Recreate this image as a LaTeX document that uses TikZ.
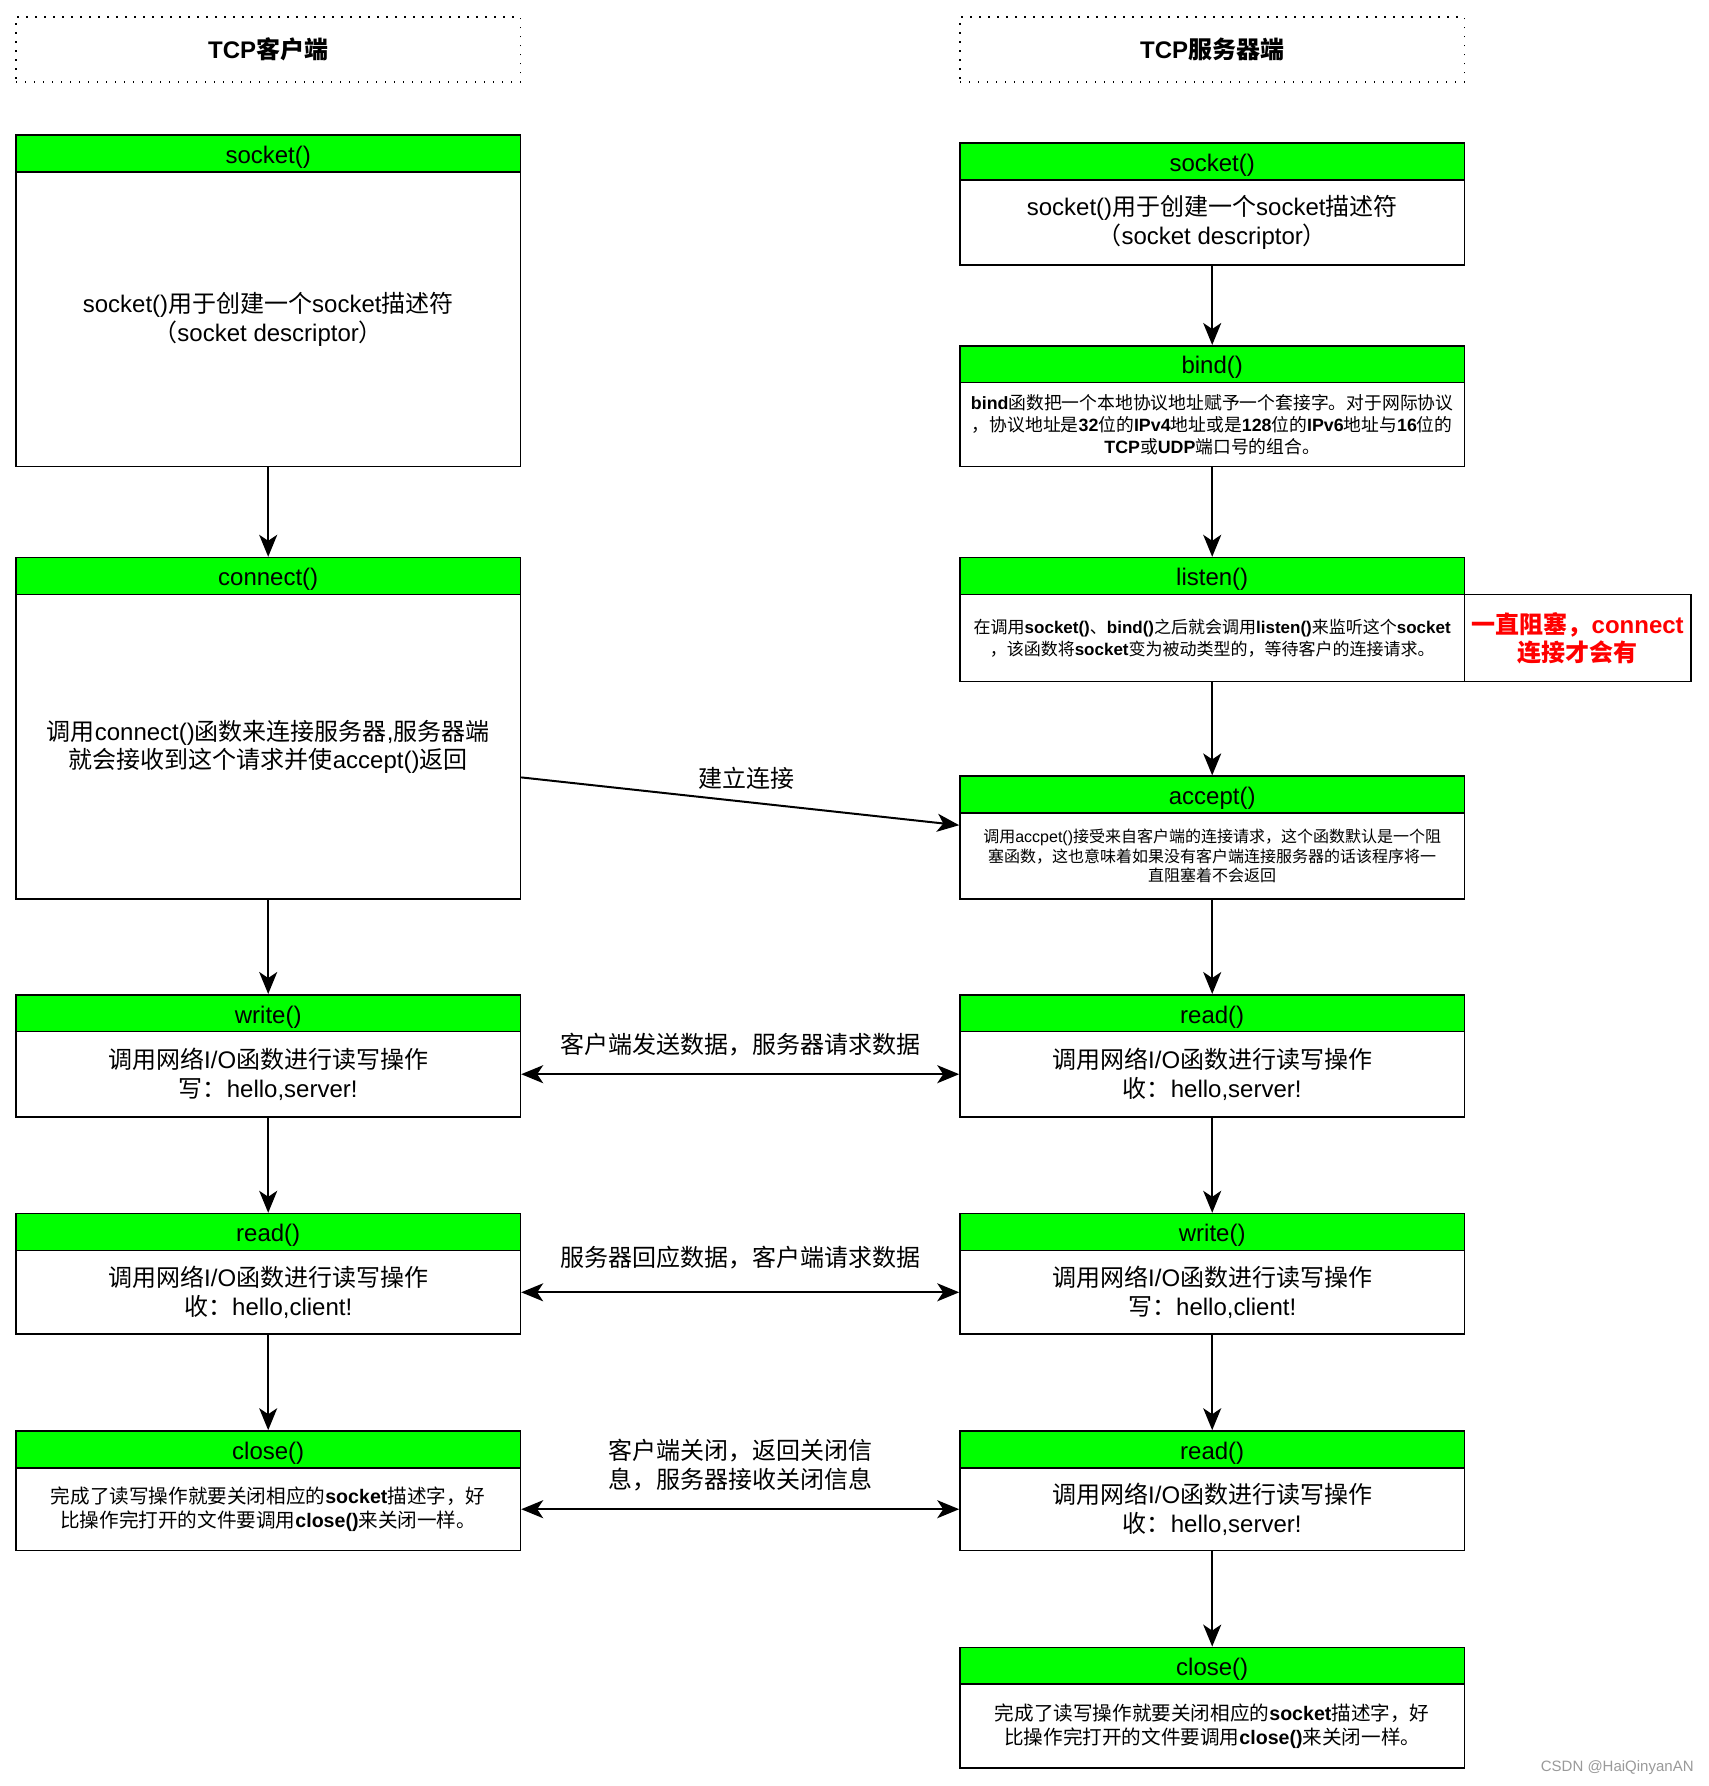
\documentclass[tikz,border=0pt]{standalone}
\usepackage{fontspec}
\setmainfont{Liberation Sans}
\newfontfamily\latinfont{Liberation Sans}
\newfontfamily\cjkfont{Noto Sans CJK SC}
\usetikzlibrary{arrows.meta}
\definecolor{hdrgreen}{HTML}{00FF00}
\definecolor{notered}{HTML}{FF0000}
\definecolor{wmgray}{HTML}{9A9A9A}
\XeTeXinterchartokenstate=1
\newXeTeXintercharclass\cjkcls
\newcount\cjkcnt
\def\setcjkrange#1#2{\cjkcnt=#1\relax
  \loop\XeTeXcharclass\cjkcnt=\cjkcls\relax
  \advance\cjkcnt by 1\relax
  \ifnum\cjkcnt<#2\relax\repeat}
\setcjkrange{"3000}{"3040}
\setcjkrange{"4E00}{"A000}
\setcjkrange{"FF00}{"FFF0}
\XeTeXinterchartoks 0 \cjkcls = {\cjkfont}
\XeTeXinterchartoks 4095 \cjkcls = {\cjkfont}
\XeTeXinterchartoks \cjkcls 0 = {\latinfont}
\XeTeXinterchartoks 4095 0 = {\latinfont}
\begin{document}
\begin{tikzpicture}[x=1pt,y=-1pt,
  box/.style={draw=black, line width=0.8pt, rectangle, inner sep=0pt, align=center, anchor=north, minimum width=252.2pt},
  hdr/.style={draw=black, line width=0.8pt, rectangle, inner sep=0pt, anchor=north, minimum width=252.2pt, fill=hdrgreen, minimum height=18.4pt, text height=11.8pt, text depth=2pt, font=\fontsize{12}{14}\selectfont},
  bodybox/.style={box, fill=white, font=\fontsize{12}{14.2}\selectfont},
  bindtxt/.style={font=\fontsize{8.9}{10.8}\selectfont},
  listentxt/.style={font=\fontsize{8.5}{10.8}\selectfont},
  tinytxt/.style={font=\fontsize{8}{9.7}\selectfont},
  closetxt/.style={font=\fontsize{9.8}{11.8}\selectfont},
  titlebox/.style={draw=black, line width=0.7pt, dash pattern=on 0.7pt off 3.8pt, rectangle, minimum width=252.2pt, minimum height=32.5pt, inner sep=0pt, font=\fontsize{12}{14}\selectfont\bfseries},
  notebox/.style={box, fill=white, minimum width=113.3pt, text=notered, font=\fontsize{12}{14}\selectfont\bfseries},
  lbl/.style={inner sep=0pt, font=\fontsize{12}{14.2}\selectfont, align=center},
  arr/.style={draw=black, line width=1pt, -{Stealth[length=11pt,width=9pt,inset=3pt]}},
  darr/.style={draw=black, line width=1pt, {Stealth[length=11pt,width=9pt,inset=3pt]}-{Stealth[length=11pt,width=9pt,inset=3pt]}}
]
\fill[white] (0,0) rectangle (854,893);
\useasboundingbox (0,0) rectangle (854,893);

% titles
\node[titlebox] (tl) at (134.1,24.8) {TCP客户端};
\node[titlebox] (tr) at (606.1,24.8) {TCP服务器端};

% left column
\node[hdr] (ls-h) at (134.1,67.2) {socket()};
\node[bodybox, minimum height=147.3pt] (ls-b) at (134.1,85.6) {socket()用于创建一个socket描述符\\（socket descriptor）};
\node[hdr] (lc-h) at (134.1,278.4) {connect()};
\node[bodybox, minimum height=152.4pt] (lc-b) at (134.1,296.8) {调用connect()函数来连接服务器,服务器端\\就会接收到这个请求并使accept()返回};
\node[hdr] (lw-h) at (134.1,497.0) {write()};
\node[bodybox, minimum height=42.6pt] (lw-b) at (134.1,515.4) {调用网络I/O函数进行读写操作\\写：hello,server!};
\node[hdr] (lr-h) at (134.1,606.4) {read()};
\node[bodybox, minimum height=41.9pt] (lr-b) at (134.1,624.8) {调用网络I/O函数进行读写操作\\收：hello,client!};
\node[hdr] (lx-h) at (134.1,715.1) {close()};
\node[bodybox, closetxt, minimum height=41.4pt] (lx-b) at (134.1,733.5) {完成了读写操作就要关闭相应的\textbf{socket}描述字，好\\比操作完打开的文件要调用\textbf{close()}来关闭一样。};

% right column
\node[hdr] (rs-h) at (606.1,71.2) {socket()};
\node[bodybox, minimum height=42.5pt] (rs-b) at (606.1,89.6) {socket()用于创建一个socket描述符\\（socket descriptor）};
\node[hdr] (rb-h) at (606.1,172.5) {bind()};
\node[bodybox, bindtxt, minimum height=42.0pt] (rb-b) at (606.1,190.9) {\textbf{bind}函数把一个本地协议地址赋予一个套接字。对于网际协议\\，协议地址是\textbf{32}位的\textbf{IPv4}地址或是\textbf{128}位的\textbf{IPv6}地址与\textbf{16}位的\\\textbf{TCP}或\textbf{UDP}端口号的组合。};
\node[hdr] (rl-h) at (606.1,278.4) {listen()};
\node[bodybox, listentxt, minimum height=43.6pt] (rl-b) at (606.1,296.8) {在调用\textbf{socket()}、\textbf{bind()}之后就会调用\textbf{listen()}来监听这个\textbf{socket}\\，该函数将\textbf{socket}变为被动类型的，等待客户的连接请求。};
\node[notebox, minimum height=43.6pt] (rl-n) at (788.85,296.8) {一直阻塞，connect\\连接才会有};
\node[hdr] (ra-h) at (606.1,387.7) {accept()};
\node[bodybox, tinytxt, minimum height=43.1pt] (ra-b) at (606.1,406.1) {调用accpet()接受来自客户端的连接请求，这个函数默认是一个阻\\塞函数，这也意味着如果没有客户端连接服务器的话该程序将一\\直阻塞着不会返回};
\node[hdr] (rr-h) at (606.1,497.0) {read()};
\node[bodybox, minimum height=42.6pt] (rr-b) at (606.1,515.4) {调用网络I/O函数进行读写操作\\收：hello,server!};
\node[hdr] (rw-h) at (606.1,606.4) {write()};
\node[bodybox, minimum height=41.9pt] (rw-b) at (606.1,624.8) {调用网络I/O函数进行读写操作\\写：hello,client!};
\node[hdr] (rq-h) at (606.1,715.1) {read()};
\node[bodybox, minimum height=41.4pt] (rq-b) at (606.1,733.5) {调用网络I/O函数进行读写操作\\收：hello,server!};
\node[hdr] (rx-h) at (606.1,823.3) {close()};
\node[bodybox, closetxt, minimum height=41.9pt] (rx-b) at (606.1,841.7) {完成了读写操作就要关闭相应的\textbf{socket}描述字，好\\比操作完打开的文件要调用\textbf{close()}来关闭一样。};

% vertical connectors
\draw[arr] (ls-b.south) -- (lc-h.north);
\draw[arr] (lc-b.south) -- (lw-h.north);
\draw[arr] (lw-b.south) -- (lr-h.north);
\draw[arr] (lr-b.south) -- (lx-h.north);
\draw[arr] (rs-b.south) -- (rb-h.north);
\draw[arr] (rb-b.south) -- (rl-h.north);
\draw[arr] (rl-b.south) -- (ra-h.north);
\draw[arr] (ra-b.south) -- (rr-h.north);
\draw[arr] (rr-b.south) -- (rw-h.north);
\draw[arr] (rw-b.south) -- (rq-h.north);
\draw[arr] (rq-b.south) -- (rx-h.north);

% horizontal connectors
\draw[arr] ([yshift=-15.3pt]lc-b.east) -- node[lbl, pos=0.515, above=5.7pt] (l-conn) {建立连接} ([yshift=15.45pt]ra-b.west);
\draw[darr] (lw-b.east) -- node[lbl, above=8.5pt] (l-send) {客户端发送数据，服务器请求数据} (rr-b.west);
\draw[darr] (lr-b.east) -- node[lbl, above=11.2pt] (l-resp) {服务器回应数据，客户端请求数据} (rw-b.west);
\draw[darr] (lx-b.east) -- node[lbl, above=8.7pt] (l-close) {客户端关闭，返回关闭信\\息，服务器接收关闭信息} (rq-b.west);

% watermark
\node[anchor=east, inner sep=0pt, text=wmgray, font=\fontsize{7.5}{9}\selectfont] (wm) at (847,884) {CSDN @HaiQinyanAN};
\end{tikzpicture}
\end{document}
